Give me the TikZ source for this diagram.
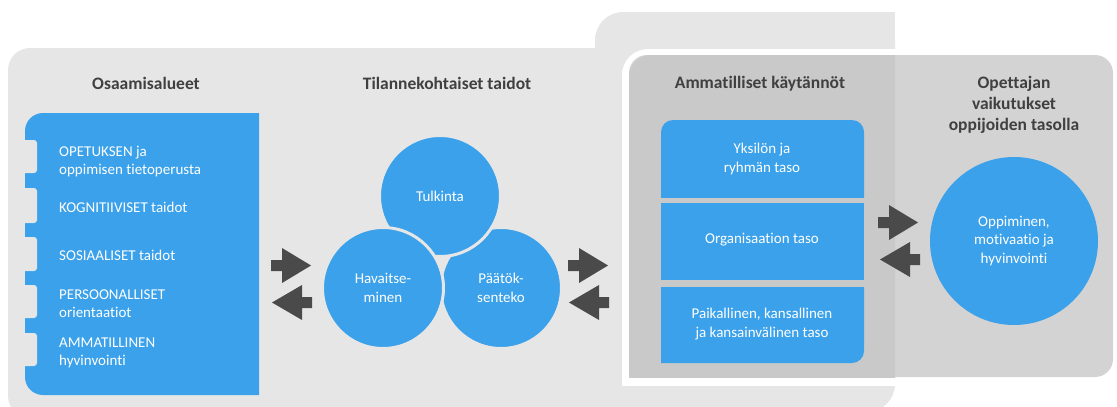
\documentclass[tikz,border=0pt]{standalone}
\usepackage{fontspec}
\setmainfont{Carlito}[Ligatures={NoCommon}, RawFeature={-liga}]
\definecolor{bgl}{HTML}{E6E6E6}
\definecolor{pnl}{HTML}{C9C9C9}
\definecolor{pnr}{HTML}{D3D3D3}
\definecolor{blu}{HTML}{3AA1EA}
\definecolor{arrc}{HTML}{4A4A4A}
\definecolor{ttl}{HTML}{404040}
\begin{document}
\begin{tikzpicture}[x=1pt,y=-1pt,
  ttlst/.style={text=ttl, font=\fontsize{17.5}{21}\selectfont\bfseries, align=center, inner sep=0},
  lst/.style={text=white, font=\fontsize{15}{18}\selectfont, align=left, anchor=west, inner sep=0},
  btxt/.style={text=white, font=\fontsize{15}{18.5}\selectfont, align=center, inner sep=0},
  circ/.style={circle, fill=blu, draw=bgl, line width=3pt, minimum size=121pt, inner sep=0,
    text=white, font=\fontsize{15}{19}\selectfont, align=center},
  bigcirc/.style={circle, fill=blu, minimum size=168pt, inner sep=0,
    text=white, font=\fontsize{15}{18.5}\selectfont, align=center},
  rarw/.pic={\fill[arrc] (-20,-5.5) -- (-9,-5.5) -- (-9,-17.5) -- (20,0) -- (-9,17.5) -- (-9,5.5) -- (-20,5.5) -- cycle;},
  larw/.pic={\fill[arrc] (20,-5.5) -- (10,-5.5) -- (10,-17.5) -- (-20,0) -- (10,17.5) -- (10,5.5) -- (20,5.5) -- cycle;}
]
\useasboundingbox (0,0) rectangle (1117,407);
% light grey background
\fill[bgl, rounded corners=22] (8,48) rectangle (700,418);
\fill[bgl, rounded corners=28] (595,12) rectangle (895,412);
\fill[bgl] (850,12) rectangle (895,380);
% dark panel with white border
\begin{scope}
  \clip (0,0) rectangle (1117,385);
  \fill[white, rounded corners=26] (622,49) rectangle (1150,420);
\end{scope}
\fill[pnr, rounded corners=18] (629,55) rectangle (1113,377);
\begin{scope}
  \clip (0,0) rectangle (895,377);
  \fill[pnl, rounded corners=22] (629,55) rectangle (960,420);
\end{scope}
% left blue list box
\begin{scope}
  \clip (0,0) rectangle (259,407);
  \fill[blu, rounded corners=18] (25,113) rectangle (300,395);
\end{scope}
\foreach \ya/\yb in {140/173,188/223,237/271,285/318,333/366}{
  \fill[bgl, rounded corners=3] (18,\ya) rectangle (37,\yb);
}
% stacked boxes
\begin{scope}
  \clip (0,0) rectangle (1117,197);
  \fill[blu, rounded corners=12] (661,120) rectangle (864,240);
\end{scope}
\fill[blu] (661,203) rectangle (864,280);
\begin{scope}
  \clip (661,287) rectangle (1117,407);
  \fill[blu, rounded corners=12] (600,250) rectangle (864,363);
\end{scope}
% titles
\node[ttlst] (t1) at (146,83) {Osaamisalueet};
\node[ttlst] (t2) at (447,83) {Tilannekohtaiset taidot};
\node[ttlst] (t3) at (760,84) {Ammatilliset käytännöt};
\node[ttlst] (t4) at (1014,105) {Opettajan\\vaikutukset\\oppijoiden tasolla};
% list texts
\node[lst] (l1) at (59,161.5) {OPETUKSEN ja\\oppimisen tietoperusta};
\node[lst] (l2) at (59,207) {KOGNITIIVISET taidot};
\node[lst] (l3) at (59,255) {SOSIAALISET taidot};
\node[lst] (l4) at (59,304) {PERSOONALLISET\\orientaatiot};
\node[lst] (l5) at (59,353) {AMMATILLINEN\\hyvinvointi};
% circles
\node[circ] (pt) at (501,288) {Päätök-\\senteko};
\node[circ] (tu) at (440,196) {Tulkinta};
\node[circ] (ha) at (383,288) {Havaitse-\\minen};
% level box texts
\node[btxt] (b1) at (762,159) {Yksilön ja\\ryhmän taso};
\node[btxt] (b2) at (762,240) {Organisaation taso};
\node[btxt] (b3) at (762,324) {Paikallinen, kansallinen\\ja kansainvälinen taso};
% outcome circle
\node[bigcirc] (op) at (1014,241) {Oppiminen,\\motivaatio ja\\hyvinvointi};
% block arrows
\pic at (291,265.5) {rarw};
\pic at (292,302.5) {larw};
\pic at (588,265.5) {rarw};
\pic at (589,302.5) {larw};
\pic at (898,222.5) {rarw};
\pic at (900,259.5) {larw};
\end{tikzpicture}
\end{document}
